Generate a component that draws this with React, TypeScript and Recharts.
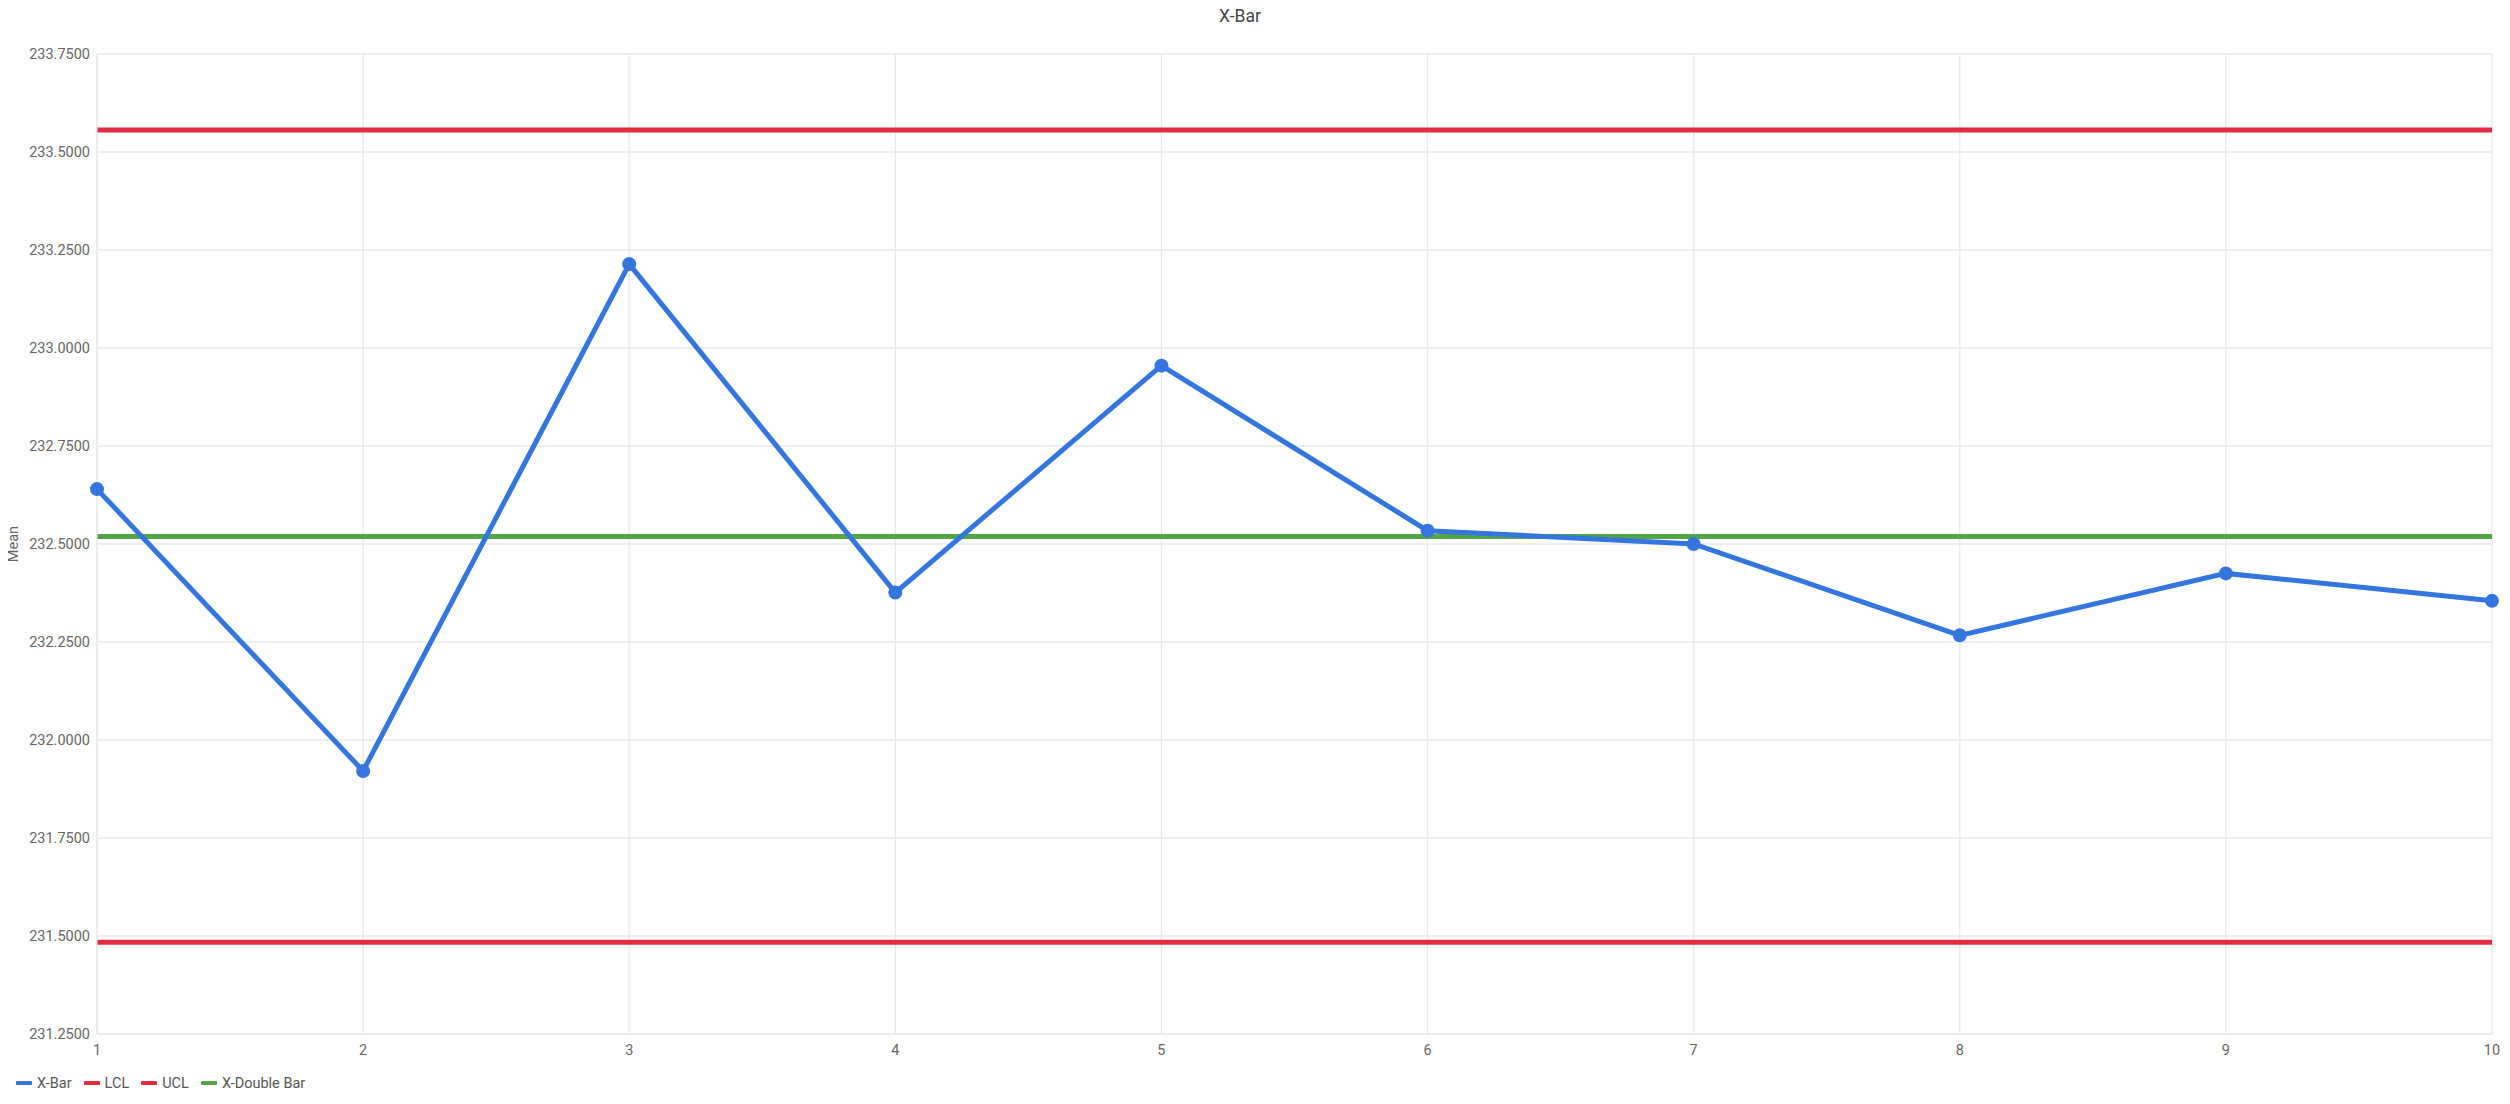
import React from 'react';
import {
  LineChart,
  Line,
  XAxis,
  YAxis,
  CartesianGrid,
  Legend,
} from 'recharts';

// サンプル番号
const SAMPLES = ['1', '2', '3', '4', '5', '6', '7', '8', '9', '10'];

// 各サンプルの平均値
const XBAR = [232.640, 231.921, 233.214, 232.376, 232.955, 232.534, 232.500, 232.267, 232.425, 232.355];

// 管理限界と中心線
const UCL = [233.556, 233.556, 233.556, 233.556, 233.556, 233.556, 233.556, 233.556, 233.556, 233.556];
const LCL = [231.484, 231.484, 231.484, 231.484, 231.484, 231.484, 231.484, 231.484, 231.484, 231.484];
const XDBAR = [232.519, 232.519, 232.519, 232.519, 232.519, 232.519, 232.519, 232.519, 232.519, 232.519];

const Y_TICKS = [231.25, 231.5, 231.75, 232, 232.25, 232.5, 232.75, 233, 233.25, 233.5, 233.75];

const BLUE = '#3476dd';
const RED = '#e32b42';
const GREEN = '#53a548';
const FONT = 'Roboto, "Noto Sans", sans-serif';

const LEGEND_ITEMS = [
  { name: 'X-Bar', color: BLUE },
  { name: 'LCL', color: RED },
  { name: 'UCL', color: RED },
  { name: 'X-Double Bar', color: GREEN },
];

const chartData = SAMPLES.map((s, i) => ({
  sample: s,
  xbar: XBAR[i],
  ucl: UCL[i],
  lcl: LCL[i],
  xdbar: XDBAR[i],
}));

const renderLegend = () => (
  <div style={{ display: 'flex', alignItems: 'center', fontFamily: FONT, fontSize: '14.5px', color: '#555', height: 20 }}>
    {LEGEND_ITEMS.map((item) => (
      <div key={item.name} style={{ display: 'flex', alignItems: 'center', marginRight: 12 }}>
        <span style={{ display: 'inline-block', width: 16, height: 4, background: item.color, borderRadius: 1, marginRight: 5 }} />
        <span>{item.name}</span>
      </div>
    ))}
  </div>
);

export default function App() {
  return (
    <div style={{ position: 'relative', width: 2508, height: 1090, marginLeft: -8, fontFamily: FONT }}>
      <div
        style={{
          position: 'absolute',
          left: 1240,
          top: -2,
          transform: 'translateX(-50%)',
          fontSize: '17.5px',
          lineHeight: '20px',
          color: '#444',
          whiteSpace: 'nowrap',
        }}
      >
        X-Bar
      </div>
      <LineChart
        width={2508}
        height={1090}
        data={chartData}
        margin={{ top: 46, right: 16, bottom: 5, left: 8 }}
      >
        <CartesianGrid stroke="#e8e8e8" strokeWidth={1.3} />
        <XAxis
          dataKey="sample"
          height={39}
          axisLine={{ stroke: '#e8e8e8' }}
          tickLine={false}
          tickSize={6}
          tickMargin={5}
          tick={{ fill: '#666', fontSize: 14.5, fontFamily: FONT }}
          interval={0}
        />
        <YAxis
          width={89}
          domain={[231.25, 233.75]}
          ticks={Y_TICKS}
          axisLine={{ stroke: '#e8e8e8' }}
          tickLine={false}
          tickSize={6}
          tickMargin={1}
          tick={{ fill: '#666', fontSize: 14.5, fontFamily: FONT }}
          tickFormatter={(v: number) => v.toFixed(4)}
          label={{
            value: 'Mean',
            angle: -90,
            position: 'insideLeft',
            offset: 5,
            style: { textAnchor: 'middle', fill: '#666', fontSize: 14.5, fontFamily: FONT },
          }}
        />
        <Legend
          verticalAlign="bottom"
          align="left"
          content={renderLegend}
          wrapperStyle={{ left: 16 }}
        />
        <Line dataKey="lcl" name="LCL" stroke={RED} strokeWidth={5} dot={false} isAnimationActive={false} />
        <Line dataKey="ucl" name="UCL" stroke={RED} strokeWidth={5} dot={false} isAnimationActive={false} />
        <Line dataKey="xdbar" name="X-Double Bar" stroke={GREEN} strokeWidth={5} dot={false} isAnimationActive={false} />
        <Line
          dataKey="xbar"
          name="X-Bar"
          stroke={BLUE}
          strokeWidth={5}
          dot={{ r: 7, fill: BLUE, stroke: 'none' }}
          activeDot={false}
          isAnimationActive={false}
        />
      </LineChart>
    </div>
  );
}
